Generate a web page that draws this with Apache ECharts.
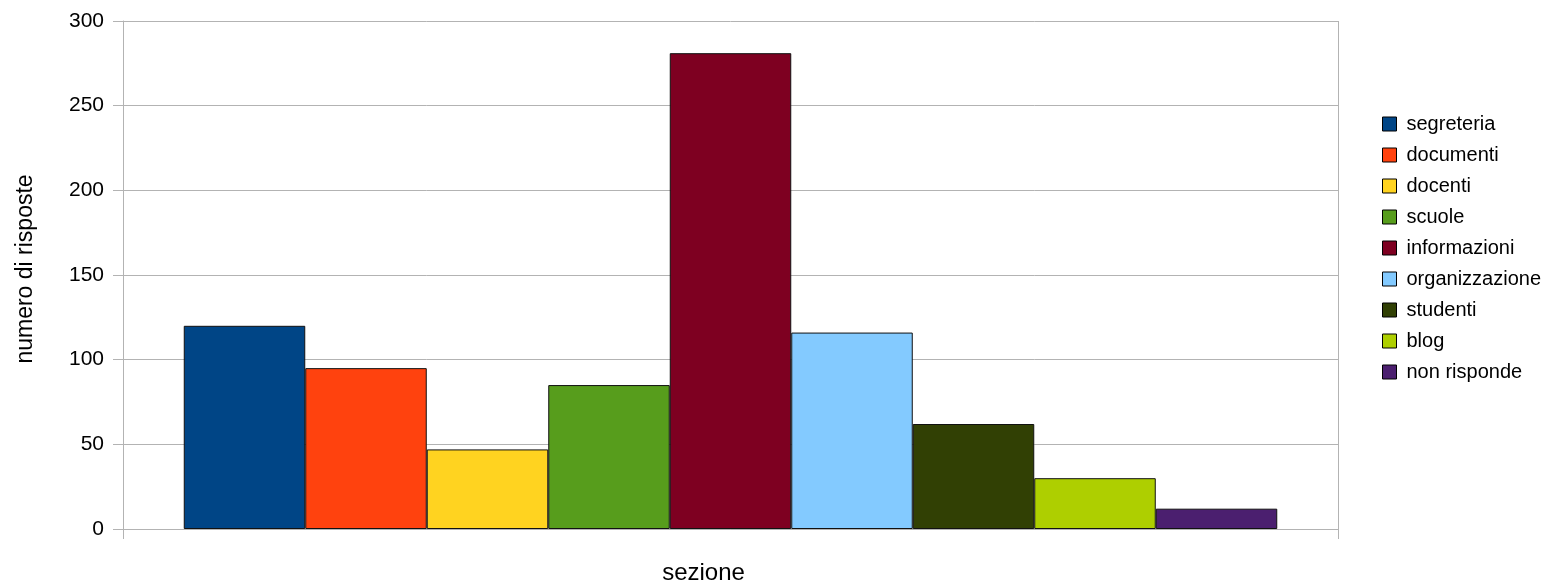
<!DOCTYPE html>
<html>
<head>
<meta charset="utf-8">
<script src="https://cdn.jsdelivr.net/npm/echarts@6/dist/echarts.min.js"></script>
<style>html,body{margin:0;padding:0;background:#fff}#c{width:1558px;height:584px}</style>
</head>
<body>
<div id="c"></div>
<script>
const categories = [''];
const seriesNames = ['segreteria','documenti','docenti','scuole','informazioni','organizzazione','studenti','blog','non risponde'];
const seriesValues = [120, 95, 47, 85, 281, 116, 62, 30, 12];
const seriesColors = ['#004586','#ff420e','#ffd320','#579d1c','#7e0021','#83caff','#314004','#aecf00','#4b1f6f'];
const yTicks = [0, 50, 100, 150, 200, 250, 300];

const chart = echarts.init(document.getElementById('c'));
const font = 'Liberation Sans, Arial, sans-serif';
chart.setOption({
  animation: false,
  textStyle: {fontFamily: font},
  grid: {left: 123, right: 220, top: 21, bottom: 55, containLabel: false, outerBoundsMode: 'none'},
  legend: {
    orient: 'vertical', left: 1382, top: 114, padding: 0,
    itemWidth: 14, itemHeight: 14, itemGap: 11,
    icon: 'rect',
    itemStyle: {borderColor: '#000', borderWidth: 1},
    textStyle: {fontSize: 20, color: '#000', fontFamily: font, lineHeight: 20, padding: [0,0,0,5]},
    data: seriesNames
  },
  xAxis: {
    type: 'category', data: categories,
    name: 'sezione', nameLocation: 'middle', nameGap: 32,
    nameTextStyle: {fontSize: 24, color: '#000', fontFamily: font, padding: [0, 54, 0, 0]},
    axisLine: {show: true, lineStyle: {color: '#b3b3b3'}},
    axisTick: {show: true, length: 10, lineStyle: {color: '#b3b3b3'}},
    axisLabel: {show: false},
    splitLine: {show: true, lineStyle: {color: '#b3b3b3'}}
  },
  yAxis: {
    type: 'value', min: 0, max: 300, interval: 50,
    name: 'numero di risposte', nameLocation: 'middle', nameGap: 86, nameRotate: 90,
    nameTextStyle: {fontSize: 23, color: '#000', fontFamily: font, padding: [0, 0, 0, 12]},
    axisLine: {show: true, lineStyle: {color: '#b3b3b3'}},
    axisTick: {show: true, length: 10, lineStyle: {color: '#b3b3b3'}},
    axisLabel: {fontSize: 21, color: '#000', margin: 19, fontFamily: font,
      formatter: v => yTicks.includes(v) ? String(v) : ''},
    splitLine: {show: true, lineStyle: {color: '#b3b3b3'}}
  },
  series: seriesNames.map((n, i) => ({
    name: n, type: 'bar',
    data: [seriesValues[i]],
    barGap: '0%', barCategoryGap: '10%',
    itemStyle: {color: seriesColors[i], borderColor: '#111', borderWidth: 1}
  }))
});
</script>
</body>
</html>
